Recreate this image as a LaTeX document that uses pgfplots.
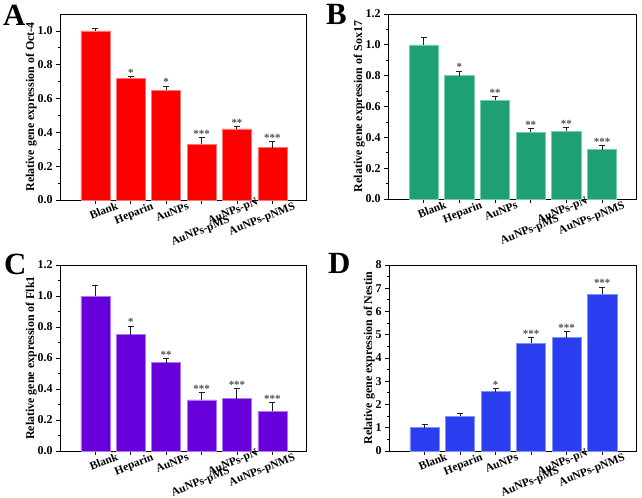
\documentclass[border=0pt]{standalone}
\usepackage{fontspec}
\setmainfont{Liberation Serif}
\usepackage{pgfplots}
\pgfplotsset{compat=1.18}
\definecolor{cA}{RGB}{255,0,0}
\definecolor{cAe}{RGB}{255,120,120}
\definecolor{cB}{RGB}{30,160,115}
\definecolor{cBe}{RGB}{120,205,170}
\definecolor{cC}{RGB}{104,0,220}
\definecolor{cCe}{RGB}{175,120,240}
\definecolor{cD}{RGB}{42,62,240}
\definecolor{cDe}{RGB}{130,145,250}
\definecolor{ebar}{RGB}{30,30,30}
\definecolor{star}{RGB}{80,80,80}
\newcommand{\dn}[1]{\raisebox{-14.6pt}{#1}\hspace{14.5pt}}
\newcommand{\up}[1]{\raisebox{4.7pt}{#1}\hspace{3.5pt}}
\pgfplotsset{
  panel/.style={
    scale only axis, anchor=south west,
    xmin=0, xmax=6.95, ymin=0,
    enlargelimits=false, clip=false,
    xtick={1,2,3,4,5,6},
    xticklabels={Blank,Heparin,AuNPs,\dn{AuNPs-pMS},\up{AuNPs-pN},AuNPs-pNMS},
    xticklabel style={rotate=22, anchor=north east, xshift=20bp, yshift=-5bp, inner sep=0pt,
      text height=8pt, text depth=2.5pt, font=\bfseries\fontsize{11.5}{13}\selectfont},
    yticklabel style={font=\bfseries\fontsize{12}{14}\selectfont},
    ylabel style={font=\bfseries\fontsize{12}{14}\selectfont, yshift=-6bp},
    axis line style={black, line width=0.9pt},
    tick style={black, line width=0.8pt},
    tick align=outside, xtick pos=bottom, ytick pos=left,
    major tick length=4bp, minor tick length=2bp,
    minor y tick num=1,
    /pgf/number format/assume math mode=true,
  },
  bars/.style={ybar, bar width=0.82, bar shift=0pt, fill=#1, draw=#1e, line width=0.6pt,
    error bars/.cd, y dir=plus, y explicit,
    error bar style={line width=1pt, color=ebar},
    error mark options={rotate=90, mark size=3bp, line width=1pt, color=ebar}},
  stars/.style={draw=none, mark=none, nodes near coords, point meta=explicit symbolic,
    every node near coord/.style={inner sep=0pt, yshift=0bp, text=star,
      font=\bfseries\fontsize{11}{11}\selectfont}},
}
\begin{document}
\begin{tikzpicture}
\path[use as bounding box] (0,0) rectangle (642bp,-498bp);
% Panel A
\begin{axis}[panel, at={(60bp,-200bp)}, width=246bp, height=186bp,
  ymax=1.1, ytick={0,0.2,...,1.0},
  yticklabel style={/pgf/number format/.cd, fixed, fixed zerofill, precision=1},
  ylabel={Relative gene expression of Oct-4}]
\addplot[bars=cA] coordinates {(1,1.0) +- (0,0.015) (2,0.72) +- (0,0.012) (3,0.65) +- (0,0.024)
  (4,0.33) +- (0,0.037) (5,0.42) +- (0,0.014) (6,0.31) +- (0,0.035)};
\addplot[stars] coordinates {(2,0.732)[*] (3,0.674)[*] (4,0.367)[***] (5,0.434)[**] (6,0.345)[***]};
\end{axis}
% Panel B
\begin{axis}[panel, at={(388bp,-199bp)}, width=248bp, height=185bp,
  ymax=1.2, ytick={0,0.2,...,1.2},
  yticklabel style={/pgf/number format/.cd, fixed, fixed zerofill, precision=1},
  ylabel={Relative gene expression of Sox17}]
\addplot[bars=cB] coordinates {(1,1.0) +- (0,0.05) (2,0.80) +- (0,0.03) (3,0.64) +- (0,0.024)
  (4,0.433) +- (0,0.026) (5,0.44) +- (0,0.022) (6,0.32) +- (0,0.024)};
\addplot[stars] coordinates {(2,0.83)[*] (3,0.664)[**] (4,0.459)[**] (5,0.462)[**] (6,0.344)[***]};
\end{axis}
% Panel C
\begin{axis}[panel, at={(60bp,-451bp)}, width=246bp, height=186bp,
  ymax=1.2, ytick={0,0.2,...,1.2},
  yticklabel style={/pgf/number format/.cd, fixed, fixed zerofill, precision=1},
  ylabel={Relative gene expression of Flk1}]
\addplot[bars=cC] coordinates {(1,1.0) +- (0,0.065) (2,0.75) +- (0,0.056) (3,0.57) +- (0,0.026)
  (4,0.33) +- (0,0.047) (5,0.337) +- (0,0.064) (6,0.255) +- (0,0.055)};
\addplot[stars] coordinates {(2,0.806)[*] (3,0.596)[**] (4,0.377)[***] (5,0.401)[***] (6,0.31)[***]};
\end{axis}
% Panel D
\begin{axis}[panel, at={(389bp,-451bp)}, width=247bp, height=186bp,
  ymax=8, ytick={0,1,...,8}, minor y tick num=1,
  yticklabel style={/pgf/number format/.cd, fixed, precision=0},
  ylabel={Relative gene expression of Nestin}]
\addplot[bars=cD] coordinates {(1,1.0) +- (0,0.16) (2,1.5) +- (0,0.1) (3,2.55) +- (0,0.14)
  (4,4.63) +- (0,0.24) (5,4.87) +- (0,0.27) (6,6.75) +- (0,0.3)};
\addplot[stars] coordinates {(3,2.69)[*] (4,4.87)[***] (5,5.14)[***] (6,7.05)[***]};
\end{axis}
\node[font=\bfseries\fontsize{31}{31}\selectfont, anchor=base west, inner sep=0pt] at (3bp,-25bp) {A};
\node[font=\bfseries\fontsize{31}{31}\selectfont, anchor=base west, inner sep=0pt] at (326bp,-24bp) {B};
\node[font=\bfseries\fontsize{31}{31}\selectfont, anchor=base west, inner sep=0pt] at (4bp,-274bp) {C};
\node[font=\bfseries\fontsize{31}{31}\selectfont, anchor=base west, inner sep=0pt] at (328bp,-273bp) {D};
\end{tikzpicture}
\end{document}
